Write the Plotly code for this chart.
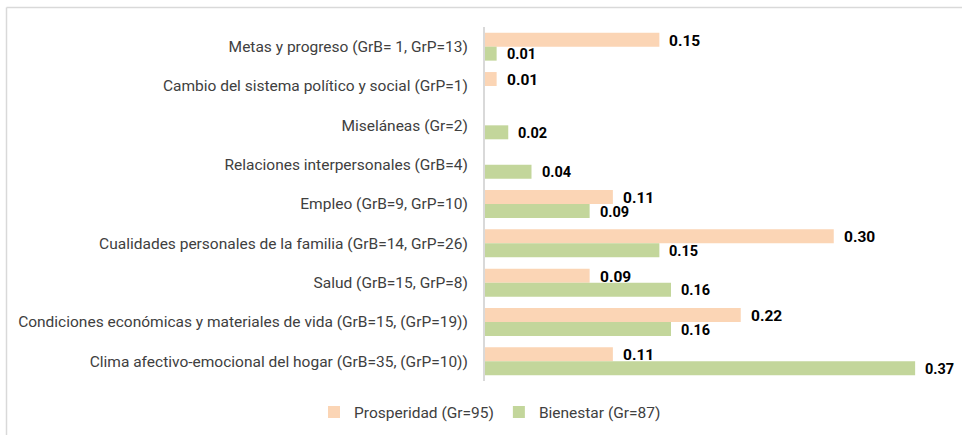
import plotly.graph_objects as go

categories = [
    "Metas y progreso (GrB= 1, GrP=13)",
    "Cambio del sistema político y social (GrP=1)",
    "Miseláneas (Gr=2)",
    "Relaciones interpersonales (GrB=4)",
    "Empleo (GrB=9, GrP=10)",
    "Cualidades personales de la familia (GrB=14, GrP=26)",
    "Salud (GrB=15, GrP=8)",
    "Condiciones económicas y materiales de vida (GrB=15, (GrP=19))",
    "Clima afectivo-emocional del hogar (GrB=35, (GrP=10))",
]
prosperidad = [0.15, 0.01, None, None, 0.11, 0.30, 0.09, 0.22, 0.11]
bienestar = [0.01, None, 0.02, 0.04, 0.09, 0.15, 0.16, 0.16, 0.37]
series_names = ["Prosperidad (Gr=95)", "Bienestar (Gr=87)"]
colors = ["#FBD5B5", "#C3D69B"]

W, H = 962, 435
ML, MR, MT, MB = 485, 12, 27, 54
PW, PH = W - ML - MR, H - MT - MB

fig = go.Figure()
for name, vals, col in zip(series_names, [prosperidad, bienestar], colors):
    fig.add_trace(go.Bar(
        y=categories, x=vals, name=name, orientation="h",
        marker=dict(color=col, line=dict(width=0)),
        hoverinfo="x+y",
    ))

annotations = []
for vals, ysh, fs in [(prosperidad, 6, 15.5), (bienestar, -8, 14.5)]:
    for c, v in zip(categories, vals):
        if v is None:
            continue
        annotations.append(dict(
            x=v, y=c, xref="x", yref="y", text=f"<b>{v:.2f}</b>",
            showarrow=False, xanchor="left", yanchor="middle",
            xshift=8, yshift=ysh,
            font=dict(family="Roboto, Arial, sans-serif", size=fs, color="#000000"),
        ))

def px_to_paper_x(px):
    return (px - ML) / PW

def px_to_paper_y(py):
    return (H - MB - py) / PH

shapes = [
    dict(type="line", xref="paper", yref="paper",
         x0=px_to_paper_x(6.5), x1=px_to_paper_x(6.5),
         y0=px_to_paper_y(7.5), y1=px_to_paper_y(H),
         line=dict(color="#D9D9D9", width=1.5)),
    dict(type="line", xref="paper", yref="paper",
         x0=px_to_paper_x(6.5), x1=px_to_paper_x(W),
         y0=px_to_paper_y(7.5), y1=px_to_paper_y(7.5),
         line=dict(color="#D9D9D9", width=1.5)),
]

fig.update_layout(
    width=W, height=H,
    margin=dict(l=ML, r=MR, t=MT, b=MB, autoexpand=False),
    paper_bgcolor="white", plot_bgcolor="white",
    barmode="group", bargap=0.29, bargroupgap=0,
    font=dict(family="Roboto, Arial, sans-serif", size=15.5, color="#404040"),
    xaxis=dict(range=[0, 0.4], showticklabels=False, showgrid=False,
               zeroline=False, showline=False, ticks=""),
    yaxis=dict(autorange="reversed", showgrid=False, zeroline=False,
               showline=True, linecolor="#D9D9D9", linewidth=2,
               ticks="", ticklabelstandoff=12, automargin=False,
               tickfont=dict(size=15.5, color="#404040")),
    legend=dict(orientation="h", x=px_to_paper_x(490), xanchor="center", y=-0.041,
                yanchor="top", font=dict(size=15.5, color="#404040"),
                itemclick=False),
    showlegend=True,
    annotations=annotations,
    shapes=shapes,
)

fig.write_html("out.html", config={"displayModeBar": False},
               post_script="document.body.style.margin='0';document.body.style.padding='0';")
